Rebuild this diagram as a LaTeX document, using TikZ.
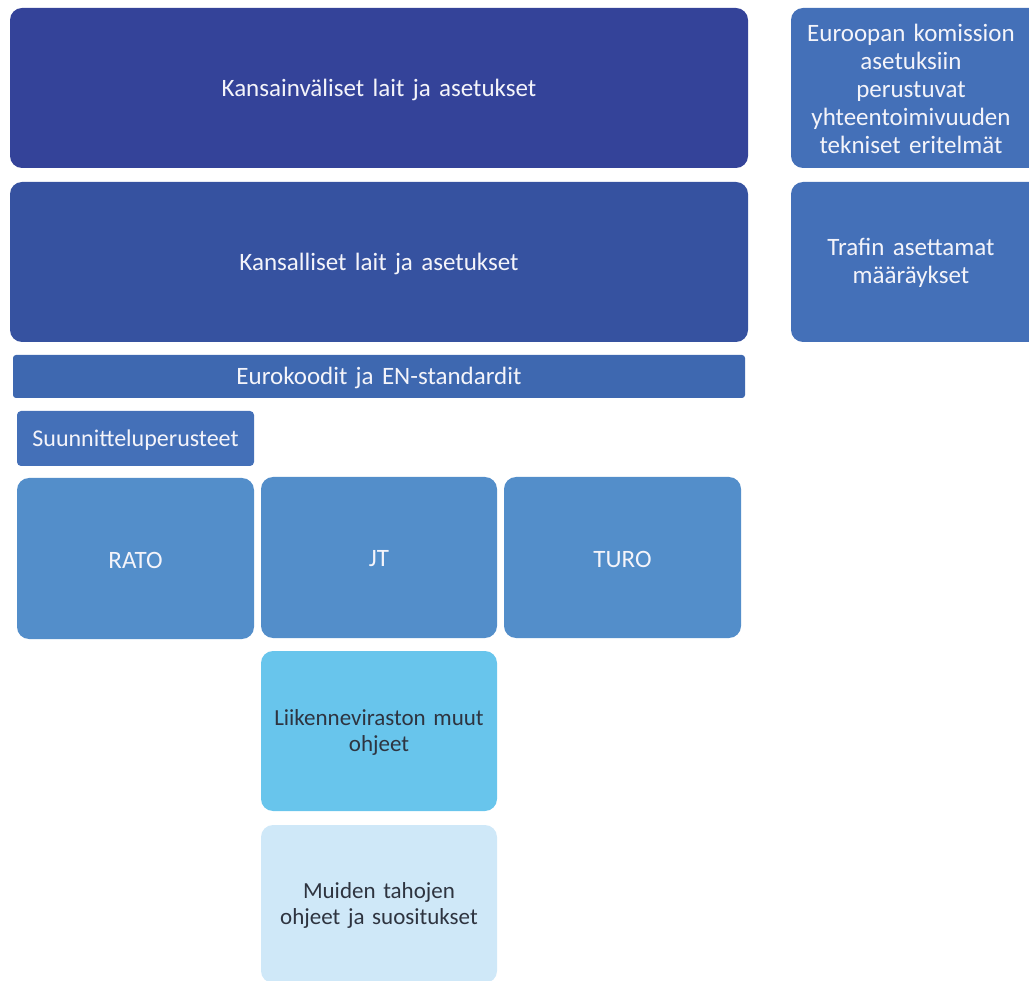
\documentclass[tikz,border=0pt]{standalone}
\usepackage{fontspec}
\setmainfont{Carlito}
\definecolor{cA}{HTML}{344399}
\definecolor{cB}{HTML}{3652A0}
\definecolor{cC}{HTML}{4470B8}
\definecolor{cD}{HTML}{3E68B0}
\definecolor{cE}{HTML}{538ECA}
\definecolor{cF}{HTML}{68C5EC}
\definecolor{cG}{HTML}{CFE8F8}
\definecolor{txtlight}{HTML}{F4F4FA}
\definecolor{txtdark}{HTML}{2E3440}
\begin{document}
\begin{tikzpicture}[x=1pt,y=-1pt,
  box/.style={rounded corners=12pt,draw=none,inner sep=0pt,align=center,
    font=\fontsize{25}{28}\selectfont,text=txtlight},
  darktext/.style={text=txtdark,font=\fontsize{23}{26}\selectfont}]
\useasboundingbox (0,0) rectangle (1029,981);
\clip (0,0) rectangle (1029,981);
\newcommand{\mybox}[7]{% name, x1,y1,x2,y2, style, text
  \path[#6] (#2,#3) rectangle (#4,#5);
  \node[#6,fill=none,text width=#4pt-#2pt-4pt] (#1) at ({(#2+#4)/2},{(#3+#5)/2+1.5}) {#7};}
\mybox{kans}{10}{8}{748}{168}{box,fill=cA}{Kansainväliset lait ja asetukset}
\mybox{kansal}{10}{182}{748}{342}{box,fill=cB}{Kansalliset lait ja asetukset}
\mybox{eu}{791}{8}{1041}{168}{box,fill=cC}{}
\node[box,text width=230pt] (eutxt) at (911,89) {Euroopan komission\\asetuksiin\\perustuvat\\yhteentoimivuuden\\tekniset eritelmät};
\mybox{trafi}{791}{182}{1041}{342}{box,fill=cC}{}
\node[box,text width=230pt] (trtxt) at (911,263) {Trafin asettamat\\määräykset};
\mybox{euro}{13}{355}{745}{398}{box,rounded corners=3pt,fill=cD}{Eurokoodit ja EN-standardit}
\mybox{suun}{17}{411}{254}{466}{box,rounded corners=4pt,fill=cC,font=\fontsize{24}{28}\selectfont}{Suunnitteluperusteet}
\mybox{rato}{17}{478}{254}{639}{box,fill=cE}{RATO}
\mybox{jt}{261}{477}{497}{638}{box,fill=cE}{JT}
\mybox{turo}{504}{477}{741}{638}{box,fill=cE}{TURO}
\mybox{liik}{261}{651}{497}{811}{box,fill=cF,darktext}{Liikenneviraston muut\\ohjeet}
\mybox{muid}{261}{825}{497}{983}{box,fill=cG,darktext}{Muiden tahojen\\ohjeet ja suositukset}
\end{tikzpicture}
\end{document}
